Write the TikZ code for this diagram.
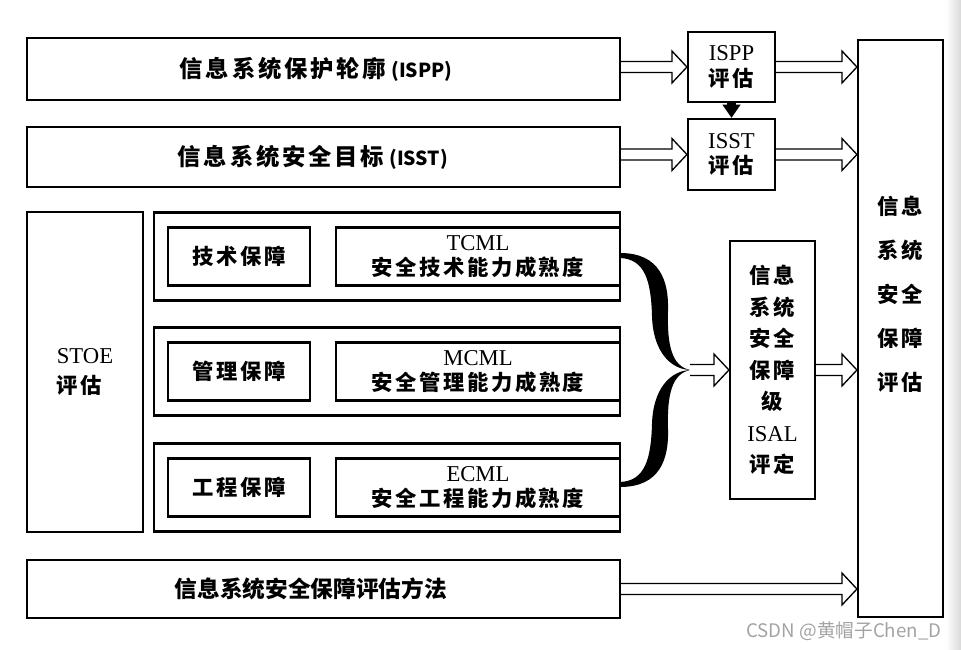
\documentclass[tikz,border=0pt]{standalone}
\usepackage{fontspec}
\setmainfont{Liberation Serif}
\newfontfamily\cjk{Noto Sans CJK SC}[LetterSpace=12]
\newfontfamily\cjktight{Noto Sans CJK SC}
\newfontfamily\marksans{Noto Sans CJK SC}
\usepackage{tikz}
\usetikzlibrary{positioning, arrows.meta, calc}
\definecolor{markgray}{HTML}{A3A3A3}
\newcommand\zh[1]{{\cjk\bfseries\fontsize{16}{19}\selectfont #1}}
\newcommand\abbr[1]{{\cjktight\fontsize{14.5}{18}\selectfont\hspace{4pt}(#1)}}

\tikzset{
  blk/.style={draw, line width=1.6pt, inner sep=2pt, align=center,
    font=\fontsize{17}{19}\selectfont},
  bigtxt/.style={font=\cjk\bfseries\fontsize{17.5}{20}\selectfont},
  wh/.style 2 args={minimum width=#1*0.75pt, minimum height=#2*0.75pt},
  fatarrow/.style={draw, fill=white, line width=1pt, line join=miter},
  solidarrow/.style={line width=7pt, -{Triangle[length=10pt,width=13pt]}},
}
% hollow arrow: shaft at the height of the end point
\newcommand\hollowarrow[2]{%
  \draw[fatarrow] let \p1=(#1), \p2=(#2) in
    (\x1,\y2+4.1pt) -- (\x2-11.25pt,\y2+4.1pt) -- (\x2-11.25pt,\y2+12pt)
    -- (\x2,\y2) -- (\x2-11.25pt,\y2-12pt) -- (\x2-11.25pt,\y2-4.1pt)
    -- (\x1,\y2-4.1pt);}

\begin{document}
\begin{tikzpicture}[x=0.75pt, y=-0.75pt]
  \useasboundingbox (0,0) rectangle (961,650);
  \shade[left color=white, right color=black!15] (946,0) rectangle (961,650);

  % left column
  \node[blk, bigtxt, wh={593}{62}] (profile) at (323.5,69)
    {信息系统保护轮廓\abbr{ISPP}\hspace*{11pt}};
  \node[blk, bigtxt, wh={593}{60}] (target) at (323.5,157)
    {信息系统安全目标\abbr{ISST}\hspace*{16pt}};
  \node[blk, wh={116}{320}, align=left, font=\fontsize{17}{22.5}\selectfont]
    (stoe) at (85,372) {STOE\\\zh{评估}};

  \node[blk, wh={466}{88}] (tgrp) at (387,256.5) {};
  \node[blk, wh={466}{88}] (mgrp) at (387,371.5) {};
  \node[blk, wh={466}{88}] (egrp) at (387,487.5) {};

  \node[blk, wh={284}{58}, anchor=east] (tcml) at (tgrp.east) {TCML\\\zh{安全技术能力成熟度}};
  \node[blk, wh={142}{58}, left=18pt of tcml] (tech) {\zh{技术保障}};
  \node[blk, wh={284}{58}, anchor=east] (mcml) at (mgrp.east) {MCML\\\zh{安全管理能力成熟度}};
  \node[blk, wh={142}{58}, left=18pt of mcml] (mgmt) {\zh{管理保障}};
  \node[blk, wh={284}{58}, anchor=east] (ecml) at (egrp.east) {ECML\\\zh{安全工程能力成熟度}};
  \node[blk, wh={142}{58}, left=18pt of ecml] (engr) {\zh{工程保障}};

  \node[blk, wh={593}{58}, font=\cjktight\bfseries\fontsize{17}{20}\selectfont]
    (method) at (323.5,589) {信息系统安全保障评估方法\hspace*{19pt}};

  % right column
  \node[blk, wh={87}{70}] (ispp) at (731.5,67) {ISPP\\\zh{评估}};
  \node[blk, wh={87}{71}] (isst) at (731.5,154.5) {ISST\\\zh{评估}};
  \node[blk, wh={85}{258}, font=\fontsize{17}{23.6}\selectfont] (isal) at (772.5,370)
    {\zh{信息}\\\zh{系统}\\\zh{安全}\\\zh{保障}\\\zh{级}\\ISAL\\\zh{评定}};
  \node[blk, wh={85}{577}] (big) at (900.5,328.5) {};
  \node[align=center, font=\cjk\bfseries\fontsize{16}{33}\selectfont]
    (bigtext) at (900.5,294) {信息\\系统\\安全\\保障\\评估};

  % brace
  \coordinate (tip) at (690,370);
  \fill (620,253) .. controls (660,253) and (669,281) .. (668,311)
    .. controls (667,346) and (672,366) .. (tip)
    .. controls (670,369) and (653,351) .. (652,316)
    .. controls (651,281) and (645,259) .. (620,258) -- cycle;
  \fill (620,487) .. controls (660,487) and (669,459) .. (668,429)
    .. controls (667,394) and (672,374) .. (tip)
    .. controls (670,371) and (653,389) .. (652,424)
    .. controls (651,459) and (645,481) .. (620,482) -- cycle;

  % arrows
  \hollowarrow{profile.east}{ispp.west}
  \hollowarrow{ispp.east}{big.west |- ispp}
  \hollowarrow{target.east}{isst.west}
  \hollowarrow{isst.east}{big.west |- isst}
  \hollowarrow{tip}{isal.west}
  \hollowarrow{isal.east}{big.west |- isal}
  \hollowarrow{method.east}{big.west |- method}
  \draw[solidarrow] (ispp.south) -- (isst.north);

  \node[font=\marksans\fontsize{14}{16}\selectfont, text=markgray, anchor=east]
    (wmark) at (946,631) {CSDN @黄帽子Chen\_D};
\end{tikzpicture}
\end{document}
